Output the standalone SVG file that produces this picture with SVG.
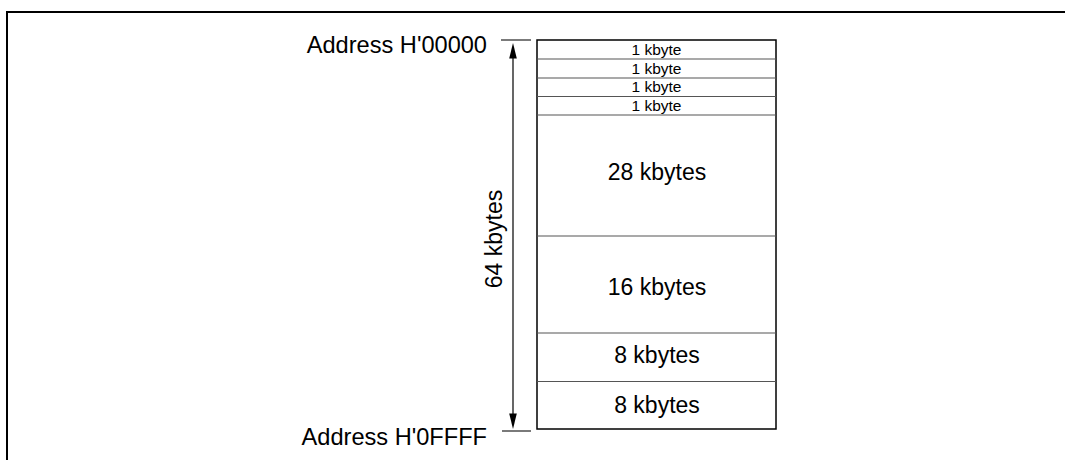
<svg xmlns="http://www.w3.org/2000/svg" width="1065" height="460" viewBox="0 0 1065 460">
<style>
  .big { font-family: "Liberation Sans", Arial, sans-serif; font-size: 23px; fill: #000; }
  .addr { font-family: "Liberation Sans", Arial, sans-serif; font-size: 23.6px; fill: #000; }
  .small { font-family: "Liberation Sans", Arial, sans-serif; font-size: 15.5px; fill: #000; }
  .div { stroke: #555; stroke-width: 1.2; }
  .tick { stroke: #222; stroke-width: 1.2; }
</style>
<rect width="1065" height="460" fill="#fff"/>
<g id="frame">
  <path d="M7,460 V12 H1065" fill="none" stroke="#000" stroke-width="2"/>
</g>
<g id="labels">
  <text class="addr" x="487" y="52.5" text-anchor="end">Address H'00000</text>
  <text class="addr" x="487" y="444.5" text-anchor="end">Address H'0FFFF</text>
  <text class="big" transform="translate(501.5,239) rotate(-90)" text-anchor="middle">64 kbytes</text>
</g>
<g id="connectors">
  <line class="tick" x1="501" y1="40" x2="531" y2="40"/>
  <line class="tick" x1="502" y1="431" x2="531" y2="431"/>
  <line x1="513" y1="58" x2="513" y2="414" stroke="#000" stroke-width="1.2"/>
  <path d="M513,43 L516.8,58.5 L509.2,58.5 Z" fill="#000"/>
  <path d="M513,429 L516.8,413.5 L509.2,413.5 Z" fill="#000"/>
</g>
<g id="memory">
  <rect x="537" y="40" width="239" height="389" fill="none" stroke="#000" stroke-width="1.5"/>
  <line class="div" x1="537" y1="59" x2="776" y2="59"/>
  <line class="div" x1="537" y1="78" x2="776" y2="78"/>
  <line class="div" x1="537" y1="96.5" x2="776" y2="96.5"/>
  <line class="div" x1="537" y1="115" x2="776" y2="115"/>
  <line class="div" x1="537" y1="236" x2="776" y2="236"/>
  <line class="div" x1="537" y1="333" x2="776" y2="333"/>
  <line class="div" x1="537" y1="381.5" x2="776" y2="381.5"/>
</g>
<g id="block1"><text class="small" x="656.5" y="55" text-anchor="middle">1 kbyte</text></g>
<g id="block2"><text class="small" x="656.5" y="73.5" text-anchor="middle">1 kbyte</text></g>
<g id="block3"><text class="small" x="656.5" y="92" text-anchor="middle">1 kbyte</text></g>
<g id="block4"><text class="small" x="656.5" y="110.5" text-anchor="middle">1 kbyte</text></g>
<g id="block5"><text class="big" x="657" y="180" text-anchor="middle">28 kbytes</text></g>
<g id="block6"><text class="big" x="657" y="295" text-anchor="middle">16 kbytes</text></g>
<g id="block7"><text class="big" x="657" y="363" text-anchor="middle">8 kbytes</text></g>
<g id="block8"><text class="big" x="657" y="413" text-anchor="middle">8 kbytes</text></g>
</svg>
